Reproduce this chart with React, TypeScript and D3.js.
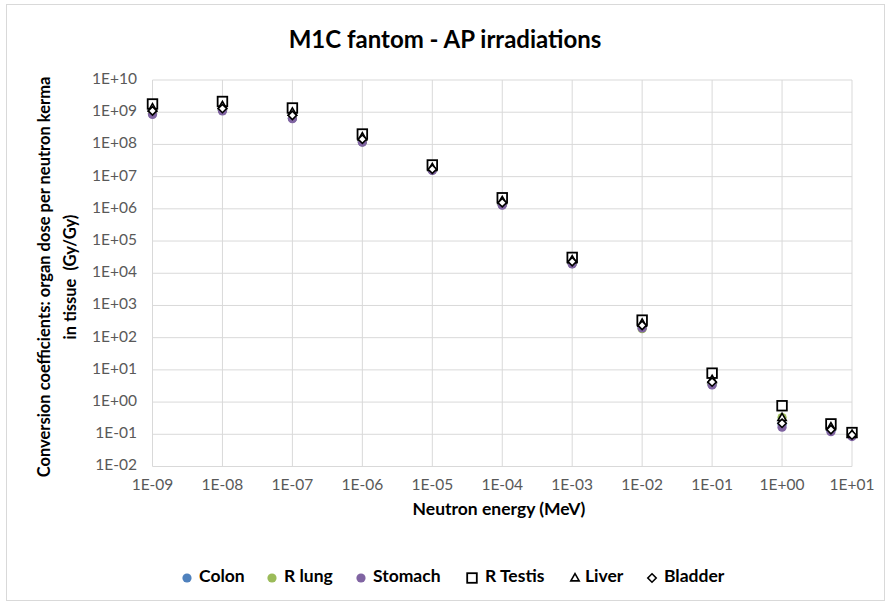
import React from "react";
import * as d3 from "d3";

const energies = [1e-9, 1e-8, 1e-7, 1e-6, 1e-5, 1e-4, 1e-3, 1e-2, 1e-1, 1, 5, 10];
const colon = [0.9e9, 1.15e9, 0.65e9, 1.2e8, 1.6e7, 1.35e6, 2.0e4, 2.05e2, 3.5, 0.2, 0.13, 0.09];
const rLung = [0.92e9, 1.15e9, 0.66e9, 1.2e8, 1.6e7, 1.35e6, 2.0e4, 1.9e2, 3.6, 0.33, 0.16, 0.095];
const stomach = [0.85e9, 1.1e9, 0.63e9, 1.17e8, 1.55e7, 1.3e6, 1.95e4, 2.0e2, 3.4, 0.166, 0.12, 0.085];
const rTestis = [1.8e9, 2.15e9, 1.35e9, 2.1e8, 2.3e7, 2.2e6, 3.1e4, 3.5e2, 7.9, 0.77, 0.21, 0.113];
const liver = [1.35e9, 1.6e9, 1.0e9, 1.7e8, 1.9e7, 1.8e6, 2.6e4, 2.8e2, 5.0, 0.33, 0.17, 0.1];
const bladder = [1.1e9, 1.3e9, 0.8e9, 1.45e8, 1.7e7, 1.55e6, 2.3e4, 2.4e2, 4.2, 0.22, 0.14, 0.095];

const xTickLabels = ["1E-09", "1E-08", "1E-07", "1E-06", "1E-05", "1E-04", "1E-03", "1E-02", "1E-01", "1E+00", "1E+01"];
const yTickLabels = ["1E-02", "1E-01", "1E+00", "1E+01", "1E+02", "1E+03", "1E+04", "1E+05", "1E+06", "1E+07", "1E+08", "1E+09", "1E+10"];

const seriesNames = ["Colon", "R lung", "Stomach", "R Testis", "Liver", "Bladder"];
const seriesData = [colon, rLung, stomach, rTestis, liver, bladder];
const seriesKinds = ["circle", "circle", "circle", "square", "triangle", "diamond"];
const seriesColors = ["#4F81BD", "#9BBB59", "#8064A2", "#000000", "#000000", "#000000"];

const FONT = "Lato, 'Open Sans', sans-serif";

function Marker({ kind, color, x, y }: { kind: string; color: string; x: number; y: number }) {
  if (kind === "circle") return <circle cx={x} cy={y} r={4.6} fill={color} />;
  if (kind === "square")
    return <rect x={x - 4.8} y={y - 4.8} width={9.6} height={9.6} fill="white" stroke="black" strokeWidth={1.8} />;
  if (kind === "triangle") {
    const p = d3.symbol().type(d3.symbolTriangle).size(30)();
    return <path d={p || ""} transform={`translate(${x},${y + 0.5})`} fill="white" stroke="black" strokeWidth={1.6} />;
  }
  const p = `M0,-4.2L4.2,0L0,4.2L-4.2,0Z`;
  return <path d={p} transform={`translate(${x},${y})`} fill="white" stroke="black" strokeWidth={1.6} />;
}

export default function App() {
  const W = 891, H = 605;
  const left = 152.5, right = 852, top = 80, bottom = 466.5;
  const x = d3.scaleLog().domain([1e-9, 10]).range([left, right]);
  const y = d3.scaleLog().domain([1e-2, 1e10]).range([bottom, top]);
  const xTicks = xTickLabels.map((_, i) => Math.pow(10, -9 + i));
  const yTicks = yTickLabels.map((_, i) => Math.pow(10, -2 + i));

  const legendX = [187, 272, 361, 472, 575, 652];
  const legendTextX = [199, 284, 373, 485, 585, 664];

  return (
    <svg width={W} height={H} style={{ position: "absolute", left: 0, top: 0, background: "white" }}>
      <rect x={6.5} y={4.5} width={878} height={596} fill="white" stroke="#D9D9D9" strokeWidth={1} />
      <text x={445} y={42} textAnchor="middle" dominantBaseline="middle" fontFamily={FONT} fontWeight="bold" fontSize={24} fill="#000">
        M1C fantom - AP irradiations
      </text>
      {yTicks.map((t, i) => (
        <line key={"gy" + i} x1={left} x2={right} y1={y(t)} y2={y(t)} stroke="#D9D9D9" strokeWidth={1} />
      ))}
      {xTicks.map((t, i) => (
        <line key={"gx" + i} x1={x(t)} x2={x(t)} y1={top} y2={bottom} stroke="#D9D9D9" strokeWidth={1} />
      ))}
      {yTicks.map((t, i) => (
        <text key={"ty" + i} x={137} y={y(t)} textAnchor="end" dominantBaseline="middle" fontFamily={FONT} fontSize={15.5} fill="#595959">
          {yTickLabels[i]}
        </text>
      ))}
      {xTicks.map((t, i) => (
        <text key={"tx" + i} x={x(t)} y={486} textAnchor="middle" dominantBaseline="middle" fontFamily={FONT} fontSize={15.5} fill="#595959">
          {xTickLabels[i]}
        </text>
      ))}
      <text x={499} y={511} textAnchor="middle" dominantBaseline="middle" fontFamily={FONT} fontWeight="bold" fontSize={17.5} fill="#000">
        Neutron energy (MeV)
      </text>
      <g transform={`translate(46,277) rotate(-90)`}>
        <text x={0} y={0} textAnchor="middle" dominantBaseline="middle" fontFamily={FONT} fontWeight="bold" fontSize={16.5} fill="#000">
          Conversion coefficients: organ dose per neutron kerma
        </text>
        <text x={0} y={26} textAnchor="middle" dominantBaseline="middle" fontFamily={FONT} fontWeight="bold" fontSize={16.5} fill="#000" style={{ whiteSpace: "pre" }}>
          {"in tissue  (Gy/Gy)"}
        </text>
      </g>
      {seriesData.map((arr, si) => (
        <g key={"s" + si}>
          {arr.map((v, i) => (
            <Marker key={i} kind={seriesKinds[si]} color={seriesColors[si]} x={x(energies[i])} y={y(v)} />
          ))}
        </g>
      ))}
      {seriesNames.map((n, i) => (
        <g key={"l" + i}>
          <Marker kind={seriesKinds[i]} color={seriesColors[i]} x={legendX[i]} y={578} />
          <text x={legendTextX[i]} y={578} dominantBaseline="middle" fontFamily={FONT} fontWeight="bold" fontSize={17.5} fill="#000">
            {n}
          </text>
        </g>
      ))}
    </svg>
  );
}
